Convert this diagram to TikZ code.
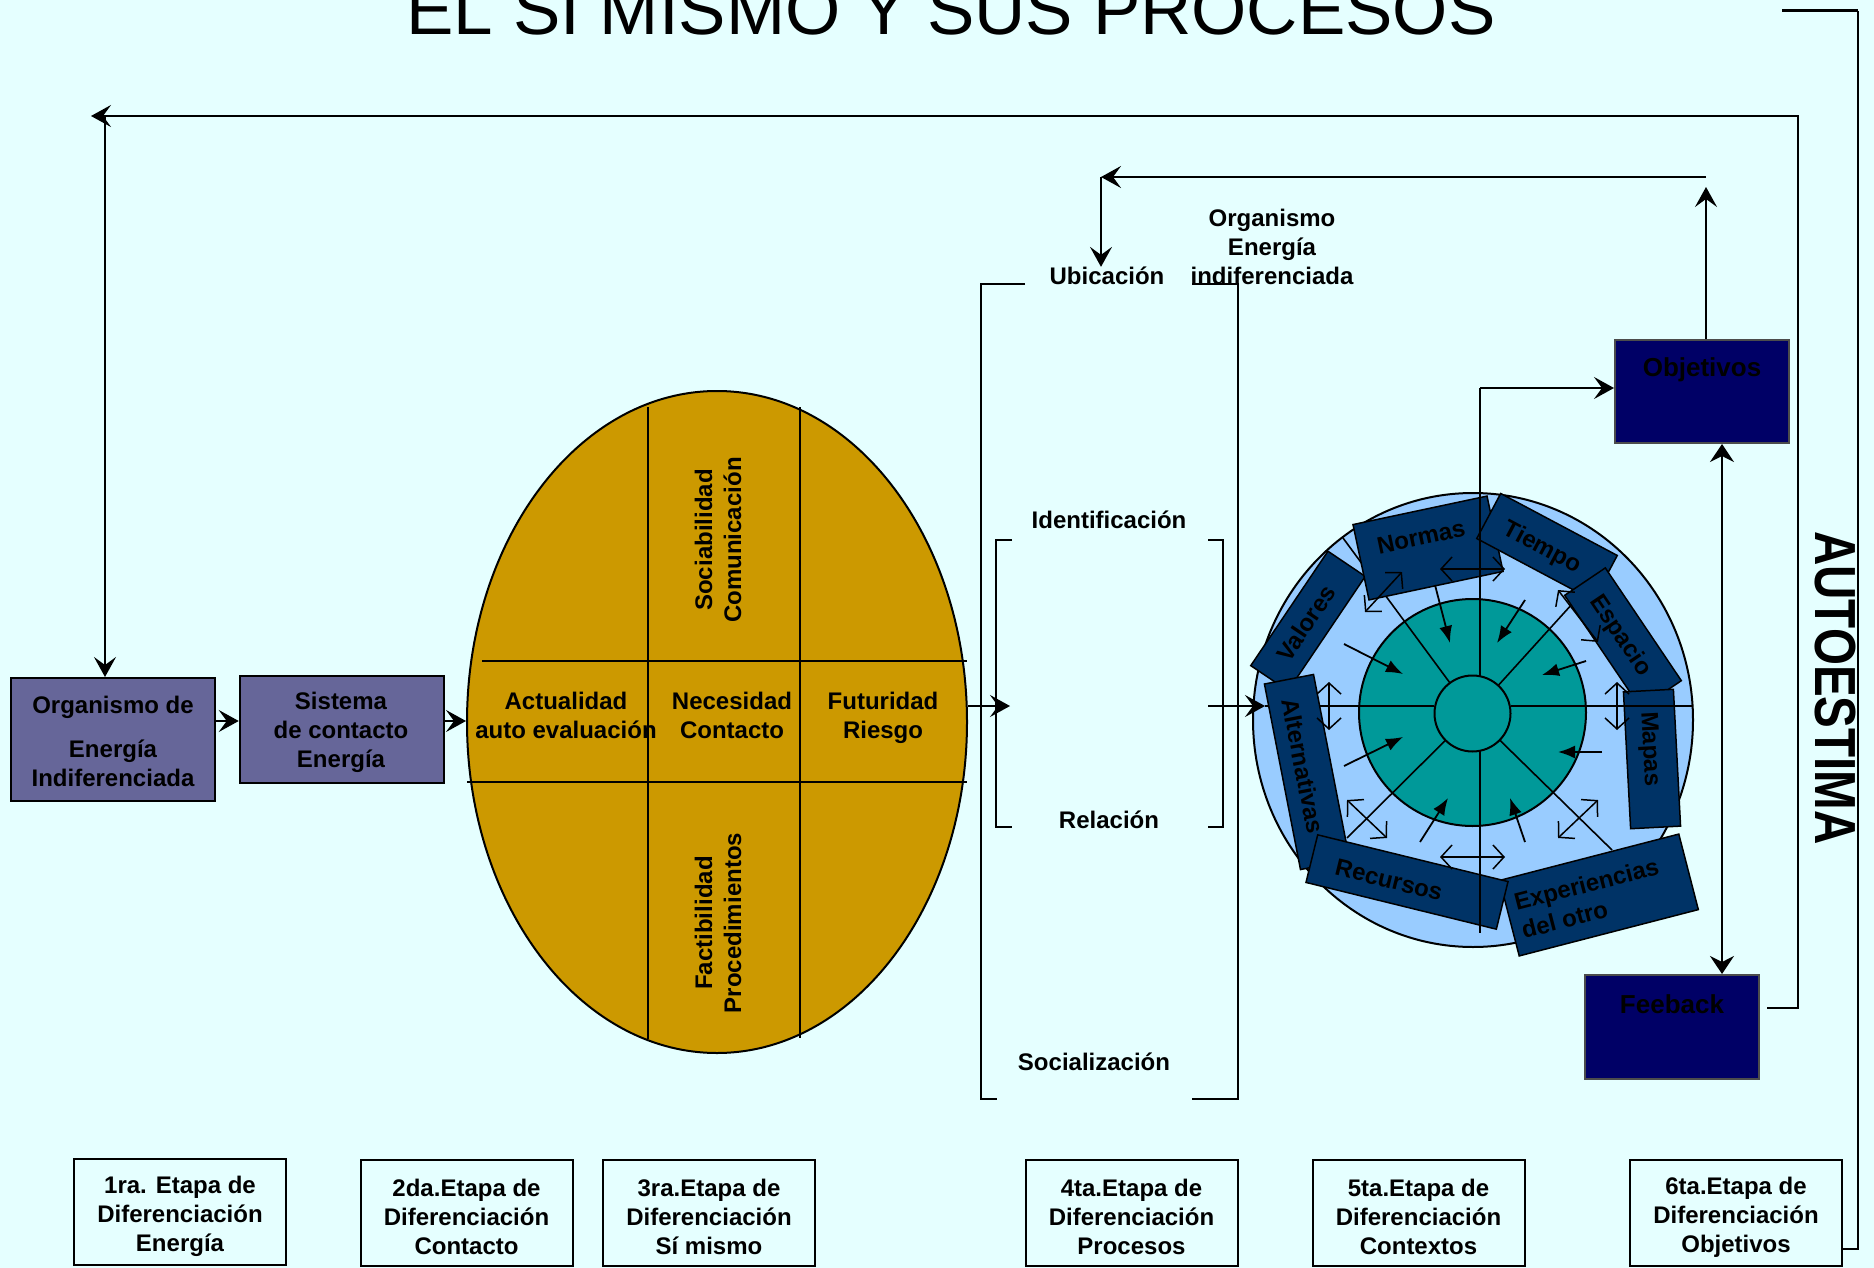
\documentclass[tikz,border=0pt]{standalone}
\usepackage{fontspec}
\setmainfont{Liberation Sans}
\usetikzlibrary{arrows.meta,shapes.geometric,calc}
\definecolor{bgc}{RGB}{229,255,255}
\definecolor{slate}{HTML}{666699}
\definecolor{gold}{HTML}{CC9900}
\definecolor{navyc}{HTML}{000066}
\definecolor{deepblue}{HTML}{003366}
\definecolor{skyb}{HTML}{99CCFF}
\definecolor{tealc}{HTML}{009999}
\begin{document}
\begin{tikzpicture}[x=1pt,y=-1pt,
 lbl/.style={font=\fontsize{24}{29}\selectfont\bfseries, align=center, inner sep=0pt},
 bigl/.style={font=\fontsize{26}{30}\selectfont\bfseries, inner sep=0pt},
 ln/.style={line width=2pt},
 thinl/.style={line width=1.6pt},
 arr/.style={line width=2pt, -{Stealth[length=20pt,width=22pt,inset=8pt]}},
 darr/.style={line width=2pt, {Stealth[length=18pt,width=24pt,inset=6pt]}-{Stealth[length=18pt,width=24pt,inset=6pt]}},
 sarr/.style={line width=1.8pt, -{Latex[length=17pt,width=13pt]}},
 dbl/.style={line width=1.5pt, {Straight Barb[length=11pt,width=24pt]}-{Straight Barb[length=11pt,width=24pt]}},
 pbox/.style={draw, line width=2pt, fill=slate, inner sep=0pt},
 cbox/.style={draw, line width=1.5pt, fill=deepblue, inner sep=0pt},
 nbox/.style={draw=gray!60!black, line width=2pt, fill=navyc, inner sep=0pt},
 sbox/.style={draw, line width=2pt, fill=bgc, minimum width=212pt, minimum height=106pt, inner sep=0pt},
 stxt/.style={lbl}
]
\useasboundingbox (0,0) rectangle (1874,1268);
\clip (0,0) rectangle (1874,1268);
\fill[bgc] (0,0) rectangle (1874,1268);

% title
\node[font=\fontsize{71}{80}\selectfont, anchor=base, inner sep=0pt] (title) at (951,35) {EL SI MISMO Y SUS PROCESOS};

% autoestima
\node[font=\fontsize{58}{60}\selectfont\bfseries, rotate=-90, inner sep=0pt] (auto) at (1835,688) {\scalebox{0.82}[1]{AUTOESTIMA}};

% stage 1 and 2 boxes
\node[pbox, minimum width=203.5pt, minimum height=123pt] (org) at (113,739.5) {};
\node[lbl] (orgt) at (113,741) {Organismo de\\[15pt]Energía\\Indiferenciada};
\node[pbox, minimum width=204.5pt, minimum height=107pt] (sis) at (342,729.5) {};
\node[lbl] (sist) at (341,732) {Sistema\\de contacto\\Energía};

% ellipse (self)
\node[draw, ellipse, line width=2pt, fill=gold, minimum width=500pt, minimum height=662pt, inner sep=0pt] (self) at (717,722) {};
\draw[ln] (648,407) -- (648,1039);
\draw[ln] (800,407) -- (800,1038);
\draw[ln] (482,661) -- (967,661);
\draw[ln] (467,782) -- (967,782);
\node[lbl] (act) at (566,715) {Actualidad\\auto evaluación};
\node[lbl] (nec) at (732,715) {Necesidad\\Contacto};
\node[lbl] (fut) at (883,718) {Futuridad\\Riesgo};
\node[lbl, rotate=90] (soc) at (718,540) {Sociabilidad\\Comunicación};
\node[lbl, rotate=90] (fac) at (718,923) {Factibilidad\\Procedimientos};

\draw[arr] (org.east |- 0,721) -- (sis.west |- 0,721);
\draw[arr] (sis.east |- 0,721) -- (self.west |- 0,721);

% brackets (processes)
\draw[ln] (1025,284) -- (981,284) -- (981,1099) -- (997,1099);
\draw[ln] (1192,284) -- (1238,284) -- (1238,1099) -- (1192,1099);
\draw[ln] (1012,540) -- (996,540) -- (996,827) -- (1012,827);
\draw[ln] (1208,540) -- (1223,540) -- (1223,827) -- (1208,827);
\coordinate (brL) at (1010,706);
\coordinate (brR) at (1208,706);
\node[lbl] (ubi) at (1107,276) {Ubicación};
\node[lbl] (ide) at (1109,520) {Identificación};
\node[lbl] (rel) at (1109,820) {Relación};
\node[lbl] (socz) at (1094,1062) {Socialización};
\node[lbl] (orgE) at (1272,247) {Organismo\\Energía\\indiferenciada};
\draw[arr] (self.east |- brL) -- (brL);

% context circle
\node[draw, ellipse, line width=2pt, fill=skyb, minimum width=440pt, minimum height=454pt, inner sep=0pt] (ring) at (1473,720) {};
\node[draw, circle, line width=2pt, fill=tealc, minimum size=227pt, inner sep=0pt] (disc) at (1472.5,712.5) {};
\node[draw, circle, line width=2pt, fill=tealc, minimum size=76pt, inner sep=0pt] (core) at (1472.5,713.5) {};
\coordinate (cin) at (1265,706);
\draw[ln] (cin) -- (1434,706);
\draw[thinl] (1449.9,682.9) -- (1343,538);
\draw[thinl] (1498.2,685.5) -- (1573,603);
\draw[thinl] (1445.5,740.3) -- (1347,838);
\draw[thinl] (1499.7,740.1) -- (1612,850);

% context boxes
\node[cbox, rotate=56, minimum width=138pt, minimum height=45pt] (val) at (1308,621) {};
\node[cbox, rotate=12, minimum width=137pt, minimum height=77pt] (nor) at (1428,548) {};
\node[cbox, rotate=-28, minimum width=132pt, minimum height=51pt] (tie) at (1547,547) {};
\node[cbox, rotate=-56, minimum width=136pt, minimum height=49pt] (esp) at (1623,638) {};
\node[cbox, rotate=-87, minimum width=137pt, minimum height=50pt] (map) at (1652,759) {};
\node[cbox, rotate=14.5, minimum width=185pt, minimum height=78pt] (exp) at (1599,895) {};
\node[cbox, rotate=-79, minimum width=189pt, minimum height=50pt] (alt) at (1307,772) {};
\node[cbox, rotate=-13.8, minimum width=196pt, minimum height=49pt] (rec) at (1407,882) {};
\node[lbl, rotate=56] (valt) at (1306,623) {Valores};
\node[lbl, rotate=12] (nort) at (1421,537) {Normas};
\node[lbl, rotate=-28] (tiet) at (1542,548) {Tiempo};
\node[lbl, rotate=-56] (espt) at (1620,636) {Espacio};
\node[lbl, rotate=-87] (mapt) at (1649,749) {Mapas};
\node[lbl, rotate=14.5, align=left] (expt) at (1590,898) {Experiencias\\del otro};
\node[lbl, rotate=-79] (altt) at (1303,766) {Alternativas};
\node[lbl, rotate=-13.8] (rect) at (1389,880) {Recursos};

% axes on top
\draw[ln] (1480,676) -- (1480,388);
\draw[ln] (1480,751) -- (1480,933);
\draw[ln] (1511,706) -- (1693,706);
\draw[arr] (brR) -- (cin);

% inward arrows
\draw[sarr] (1435,585) -- (1450,643);
\draw[sarr] (1525,600) -- (1497,643);
\draw[sarr] (1586,661) -- (1542,675);
\draw[sarr] (1602,752) -- (1558,752);
\draw[sarr] (1525,842) -- (1510,798);
\draw[sarr] (1420,842) -- (1448,798);
\draw[sarr] (1344,766) -- (1403,737);
\draw[sarr] (1344,644) -- (1403,674);

% double arrows in ring
\draw[dbl] (1440,569) -- (1505,569);
\draw[dbl] (1440,857) -- (1505,857);
\draw[dbl] (1329,682) -- (1329,730);
\draw[dbl] (1617,682) -- (1617,730);
\draw[dbl] (1365,612) -- (1402,572);
\draw[dbl] (1558,590) -- (1598,642);
\draw[dbl] (1347,800) -- (1387,838);
\draw[dbl] (1558,838) -- (1598,800);

% objectives and feedback
\node[nbox, minimum width=174pt, minimum height=103pt] (obj) at (1702,391.5) {};
\node[bigl] (objt) at (1702,370) {Objetivos};
\node[nbox, minimum width=174pt, minimum height=104pt] (feed) at (1672,1027) {};
\node[bigl] (feedt) at (1672,1004) {Feeback};
\draw[arr] (1480,388) -- (obj.west |- 0,388);
\draw[darr] (obj.south -| 1722,0) -- (feed.north -| 1722,0);

% loops
\coordinate (fbR) at (1767,1008);
\draw[arr] (fbR) -- (1798,1008) -- (1798,116) -- (91,116);
\draw[arr] (105,116) -- (org.north -| 105,0);
\draw[arr] (obj.north -| 1706,0) -- (1706,187);
\draw[arr] (1706,177) -- (1101,177);
\draw[arr] (1101,177) -- (ubi.north -| 1101,0);

% stage boxes
\node[sbox] (st1) at (180,1212) {};
\node[sbox] (st2) at (466.5,1213) {};
\node[sbox] (st3) at (709,1213) {};
\node[sbox] (st4) at (1131.5,1213) {};
\node[sbox] (st5) at (1418.5,1213) {};
\node[sbox] (st6) at (1736,1213) {};
\node[stxt] (st1t) at (180,1216) {1ra. Etapa de\\Diferenciación\\Energía};
\node[stxt] (st2t) at (466.5,1217) {2da.Etapa de\\Diferenciación\\Contacto};
\node[stxt] (st3t) at (709,1217) {3ra.Etapa de\\Diferenciación\\Sí mismo};
\node[stxt] (st4t) at (1131.5,1217) {4ta.Etapa de\\Diferenciación\\Procesos};
\node[stxt] (st5t) at (1418.5,1217) {5ta.Etapa de\\Diferenciación\\Contextos};
\node[stxt] (st6t) at (1736,1217) {6ta.Etapa de\\Diferenciación\\Objetivos};

% far right line
\draw[line width=3pt] (1782,11) -- (1858,11);
\draw[ln] (1858,11) -- (1858,1249) -- (st6.east |- 0,1249);
\end{tikzpicture}
\end{document}
